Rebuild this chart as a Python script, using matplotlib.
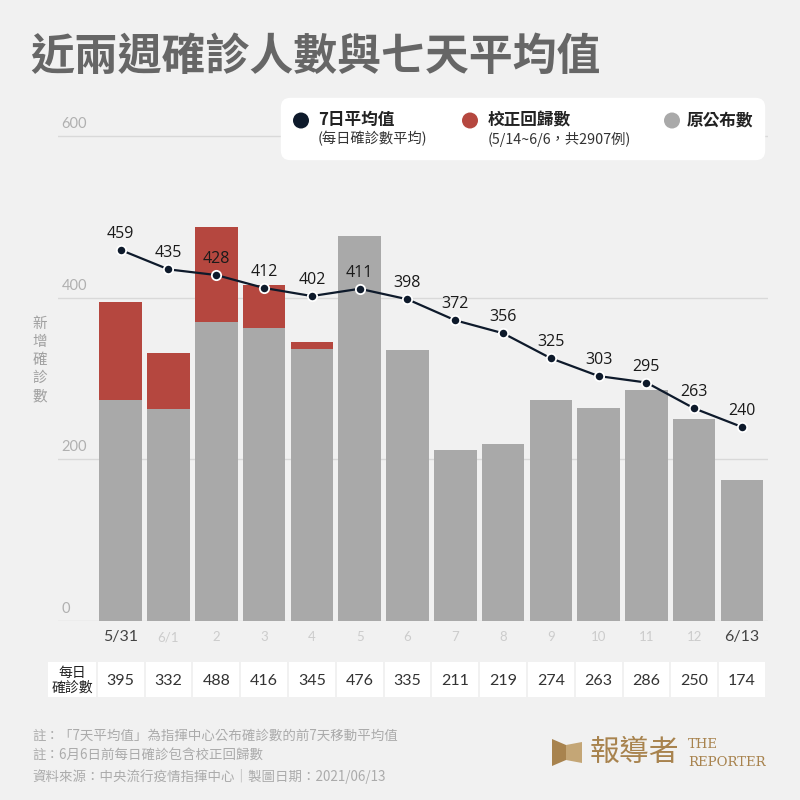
#!/usr/bin/env python3
"""
Recent two weeks of confirmed cases with 7-day average (stacked bars + line)
"""

import matplotlib
matplotlib.use('Agg')
import matplotlib.pyplot as plt
from matplotlib.patches import FancyBboxPatch, Rectangle, Polygon
from matplotlib.transforms import blended_transform_factory

plt.rcParams['font.family'] = ['Noto Sans CJK TC', 'DejaVu Sans']

# data
dates = ['5/31', '6/1', '2', '3', '4', '5', '6', '7', '8', '9', '10', '11', '12', '6/13']
daily_total = [395, 332, 488, 416, 345, 476, 335, 211, 219, 274, 263, 286, 250, 174]
original = [273, 262, 370, 363, 337, 476, 335, 211, 219, 274, 263, 286, 250, 174]
avg7 = [459, 435, 428, 412, 402, 411, 398, 372, 356, 325, 303, 295, 263, 240]
yticks = [0, 200, 400, 600]

corrected = [t - o for t, o in zip(daily_total, original)]

BG = '#f1f1f1'
GRAY = '#a9a9a9'
RED = '#b5473f'
NAVY = '#0e1a2b'
GRID = '#d9d9d9'

W = H = 800


def fx(px):
    return px / W


def fy(py):
    return 1 - py / H


fig = plt.figure(figsize=(8, 8), dpi=100, facecolor=BG)

# axes: x pixels 58..768, y=0 at pixel 621, 0.8083 px per unit
ppu = (621 - 136) / 600.0
ytop = 640
ax_top_px = 621 - ytop * ppu
ax = fig.add_axes([fx(58), fy(621), fx(768) - fx(58), (621 - ax_top_px) / H])
ax.set_facecolor(BG)

x = list(range(len(dates)))
spacing = (742 - 120.7) / 13
ax.set_xlim(-(120.7 - 58) / spacing, 13 + (768 - 742) / spacing)
ax.set_ylim(0, ytop)

for t in yticks:
    ax.axhline(t, color=GRID, lw=1, zorder=0)
    ax.text(0.005, t + 6, str(t), transform=blended_transform_factory(ax.transAxes, ax.transData),
            ha='left', va='bottom', fontsize=10.5, color='#b0b0b0', family=['Lato', 'DejaVu Sans'])

ax.bar(x, original, width=0.89, color=GRAY, zorder=2)
ax.bar(x, corrected, bottom=original, width=0.89, color=RED, zorder=2)

ax.plot(x, avg7, color=NAVY, lw=1.6, zorder=3)
ax.scatter(x, avg7, s=45, color=NAVY, edgecolors='white', linewidths=1.3, zorder=4)
for xi, v in zip(x, avg7):
    ax.annotate(str(v), (xi, v), xytext=(0, 11.5), textcoords='offset points',
                ha='center', va='center', fontsize=11.5, color='#1a1a1a',
                family=['Open Sans', 'DejaVu Sans'], zorder=5)

for s in ax.spines.values():
    s.set_visible(False)
ax.set_xticks([])
ax.set_yticks([])

# x labels and table
tr = blended_transform_factory(ax.transData, fig.transFigure)
for i, d in enumerate(dates):
    if i in (0, len(dates) - 1):
        ax.text(i, fy(637), d, transform=tr, ha='center', va='center', fontsize=11.5,
                color='#444444', family=['Lato', 'DejaVu Sans'])
    else:
        ax.text(i, fy(637), d, transform=tr, ha='center', va='center', fontsize=9.5,
                color='#cccccc', family=['Lato', 'DejaVu Sans'])

row_top, row_bot = 662, 697
half = (spacing - 2) / 2 / spacing
for i, v in enumerate(daily_total):
    ax.add_patch(Rectangle((i - half, fy(row_bot)), 2 * half, (row_bot - row_top) / H,
                           transform=tr, facecolor='white', edgecolor='none', clip_on=False))
    ax.text(i, fy(681), str(v), transform=tr, ha='center', va='center', fontsize=11.5,
            color='#333333', family=['Lato', 'DejaVu Sans'])

fig.patches.append(Rectangle((fx(48), fy(row_bot)), fx(95.7) - fx(48), (row_bot - row_top) / H,
                             transform=fig.transFigure, facecolor='white', edgecolor='none'))
fig.text(fx(72), fy(680), '每日\n確診數', ha='center', va='center', fontsize=10,
         color='#222222', linespacing=1.05)

# title
fig.text(fx(30), fy(57), '近兩週確診人數與七天平均值', ha='left', va='center',
         fontsize=31.6, fontweight='bold', color='#666666')

# y label
for k, ch in enumerate('新增確診數'):
    fig.text(fx(40), fy(324 + k * 18), ch, ha='center', va='center', fontsize=10.5, color='#a0a0a0')

# legend box
fig.patches.append(FancyBboxPatch((fx(284), fy(157)), fx(762) - fx(284), (157 - 101) / H,
                                  boxstyle='round,pad=0.004,rounding_size=0.012',
                                  transform=fig.transFigure, facecolor='white', edgecolor='none'))
legend_items = [
    (301, NAVY, '7日平均值', '(每日確診數平均)', 318),
    (470, RED, '校正回歸數', '(5/14~6/6，共2907例)', 488),
    (672, GRAY, '原公布數', None, 687),
]
for cx, col, lab, sub, tx in legend_items:
    fig.patches.append(plt.Circle((fx(cx), fy(120.5)), 8 / W, transform=fig.transFigure,
                                  facecolor=col, edgecolor='none'))
    fig.text(fx(tx), fy(120), lab, ha='left', va='center', fontsize=12, fontweight='bold', color='#222222')
    if sub:
        fig.text(fx(tx), fy(139), sub, ha='left', va='center', fontsize=10.3, color='#333333')

# footer notes
notes = [
    '註：「7天平均值」為指揮中心公布確診數的前7天移動平均值',
    '註：6月6日前每日確診包含校正回歸數',
    '資料來源：中央流行疫情指揮中心｜製圖日期：2021/06/13',
]
for k, n in enumerate(notes):
    fig.text(fx(32), fy(736 + k * 20), n, ha='left', va='center', fontsize=9.7, color='#ababab')

# logo
GOLD = '#a8834e'
fig.patches.append(Polygon([(fx(552), fy(739)), (fx(566), fy(745)), (fx(566), fy(760)), (fx(552), fy(766))],
                           closed=True, transform=fig.transFigure, facecolor=GOLD, edgecolor='none'))
fig.patches.append(Polygon([(fx(566), fy(745)), (fx(582), fy(742)), (fx(582), fy(763)), (fx(566), fy(760))],
                           closed=True, transform=fig.transFigure, facecolor='#c4a676', edgecolor='none'))
fig.text(fx(590), fy(752), '報導者', ha='left', va='center', fontsize=21.5, color=GOLD, fontweight='light')
fig.text(fx(688), fy(745), 'THE', ha='left', va='center', fontsize=9.5, color=GOLD, family='DejaVu Serif')
fig.text(fx(688), fy(762), 'REPORTER', ha='left', va='center', fontsize=9.5, color=GOLD, family='DejaVu Serif')

fig.savefig('out.png', dpi=100, facecolor=BG)
